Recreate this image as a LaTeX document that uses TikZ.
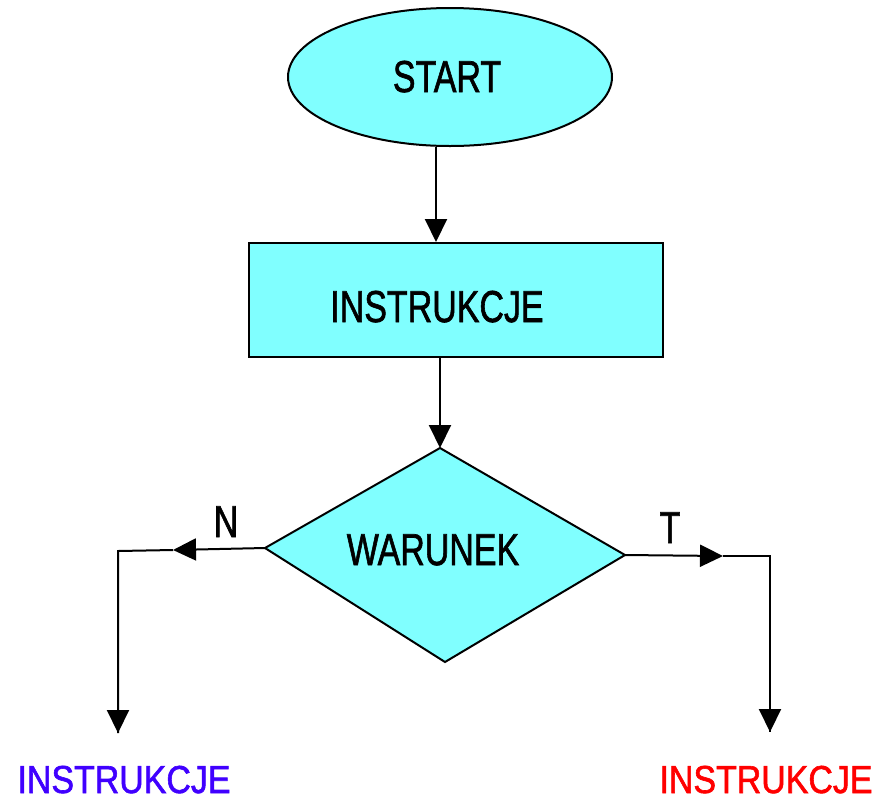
\documentclass[tikz,border=0pt]{standalone}
\usepackage{fontspec}
\setmainfont{Liberation Sans}
\newfontfamily\heavyfont{Liberation Sans}[FakeBold=1.6]
\usetikzlibrary{shapes.geometric,arrows.meta}
\definecolor{boxfill}{HTML}{80FFFF}
\definecolor{nblue}{HTML}{4000FF}
\definecolor{tred}{HTML}{FF0000}
\newcommand{\bigtxt}[1]{\heavyfont\fontsize{44.7}{50}\selectfont\scalebox{0.76}[1]{#1}}
\newcommand{\smalltxt}[1]{\heavyfont\fontsize{39}{44}\selectfont\scalebox{0.87}[1]{#1}}
\tikzset{
  shapeline/.style={draw=black, line width=2pt, fill=boxfill},
  conn/.style={draw=black, line width=2pt},
  arr/.style={conn, -{Triangle[length=23pt,width=22pt]}},
  lbl/.style={inner sep=0pt, anchor=base}
}
\begin{document}
\begin{tikzpicture}[x=1pt,y=-1pt]
\useasboundingbox (0,0) rectangle (888,801);
% shapes
\node[shapeline, ellipse, minimum width=324pt, minimum height=138pt, inner sep=0pt] (start) at (450,77) {};
\node[lbl] (starttxt) at (447,92) {\bigtxt{START}};
\node[shapeline, rectangle, minimum width=414pt, minimum height=114pt, inner sep=0pt] (instr) at (456,300) {};
\node[lbl] (instrtxt) at (437,322) {\bigtxt{INSTRUKCJE}};
\coordinate (dT) at (440,448);
\coordinate (dR) at (625,555);
\coordinate (dB) at (445,662);
\coordinate (dL) at (265,548);
\draw[shapeline] (dT) -- (dR) -- (dB) -- (dL) -- cycle;
\node[lbl] (war) at (433,565) {\bigtxt{WARUNEK}};
% columns
\coordinate (colA) at (436,0);
\coordinate (colB) at (440,0);
\draw[arr] (start.south -| colA) -- (instr.north -| colA);
\draw[arr] (instr.south -| colB) -- (dT);
% left branch
\coordinate (nTip) at (173,550);
\coordinate (lCorner) at (118,551);
\coordinate (lEnd) at (118,733);
\draw[arr] (dL) -- (nTip);
\draw[conn] (nTip) -- (lCorner) -- (lEnd);
\draw[arr] (lCorner) -- (lEnd);
% right branch
\coordinate (tTip) at (723,556);
\coordinate (rCorner) at (770,556);
\coordinate (rEnd) at (770,732);
\draw[arr] (dR) -- (tTip);
\draw[conn] (tTip) -- (rCorner) -- (rEnd);
\draw[arr] (rCorner) -- (rEnd);
% labels
\node[lbl] (nlbl) at (226,537) {\bigtxt{N}};
\node[lbl] (tlbl) at (670,543) {\bigtxt{T}};
\node[lbl, text=nblue] (outN) at (124,793) {\smalltxt{INSTRUKCJE}};
\node[lbl, text=tred] (outT) at (766,793) {\smalltxt{INSTRUKCJE}};
\end{tikzpicture}
\end{document}
